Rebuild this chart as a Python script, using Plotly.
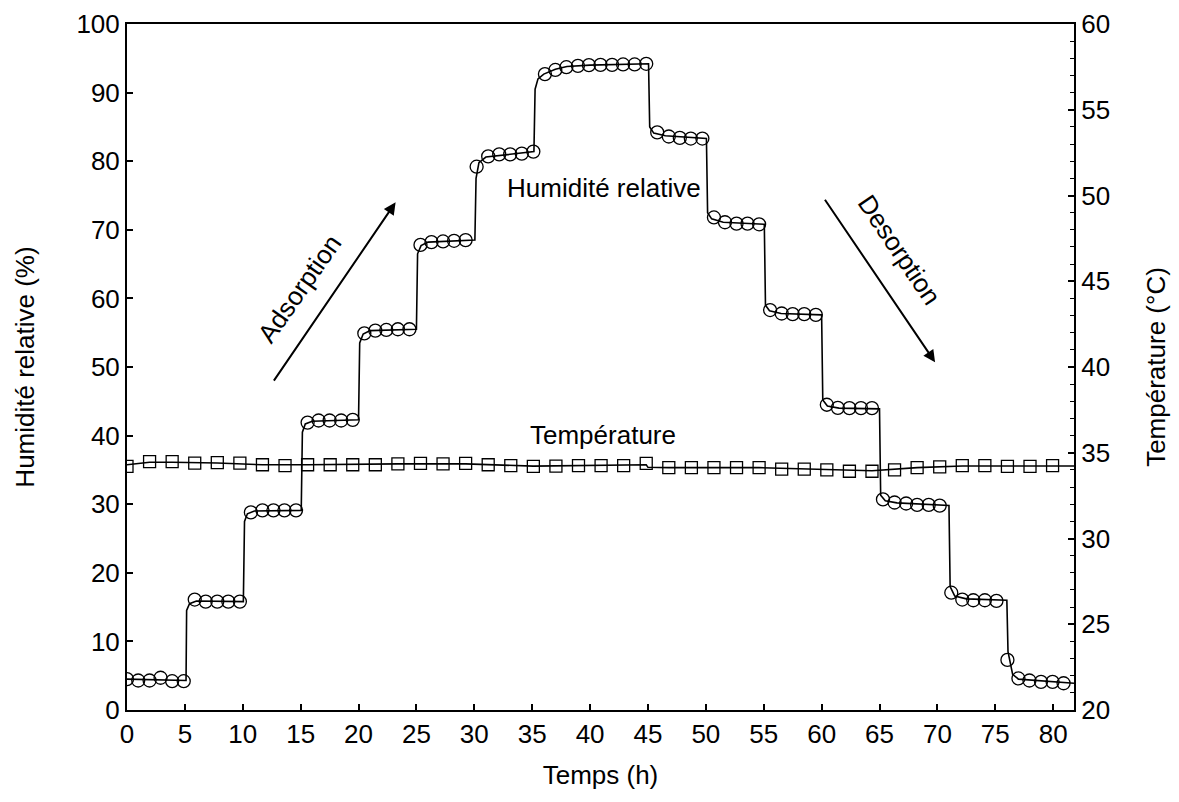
import plotly.graph_objects as go

# Relative humidity sample points (circles)
rh_time = [0.0, 0.97, 1.95, 2.9, 3.9, 4.9,
           5.85, 6.8, 7.8, 8.75, 9.75,
           10.7, 11.7, 12.65, 13.6, 14.6,
           15.6, 16.55, 17.5, 18.5, 19.5,
           20.5, 21.45, 22.4, 23.4, 24.4,
           25.35, 26.3, 27.3, 28.25, 29.25,
           30.2, 31.2, 32.15, 33.1, 34.1, 35.1,
           36.1, 37.0, 37.95, 38.95, 39.9, 40.9, 41.9, 42.85, 43.85, 44.85,
           45.8, 46.8, 47.75, 48.7, 49.7,
           50.7, 51.65, 52.65, 53.6, 54.6,
           55.55, 56.55, 57.5, 58.5, 59.5,
           60.45, 61.4, 62.4, 63.4, 64.35,
           65.3, 66.3, 67.3, 68.25, 69.25, 70.2,
           71.2, 72.15, 73.1, 74.1, 75.1,
           76.05,
           77.0, 77.95, 78.95, 79.95, 80.9]
rh_value = [4.5, 4.3, 4.3, 4.7, 4.2, 4.2,
            16.1, 15.8, 15.8, 15.8, 15.8,
            28.8, 29.1, 29.1, 29.1, 29.1,
            41.9, 42.2, 42.2, 42.2, 42.3,
            54.9, 55.3, 55.4, 55.5, 55.5,
            67.8, 68.2, 68.3, 68.4, 68.5,
            79.2, 80.7, 81.0, 81.0, 81.1, 81.4,
            92.7, 93.3, 93.7, 93.9, 94.0, 94.05, 94.05, 94.1, 94.1, 94.2,
            84.2, 83.6, 83.4, 83.3, 83.3,
            71.8, 71.1, 70.9, 70.9, 70.8,
            58.3, 57.8, 57.7, 57.7, 57.6,
            44.5, 44.05, 44.0, 44.0, 44.0,
            30.7, 30.25, 30.1, 29.9, 29.9, 29.8,
            17.1, 16.1, 16.0, 16.0, 15.9,
            7.3,
            4.6, 4.3, 4.1, 4.1, 3.9]

# Continuous relative humidity recording (line)
rh_line_time = [0.0, 5.1,
                5.15, 5.4, 6.0, 10.05,
                10.15, 10.4, 11.0, 15.05,
                15.15, 15.4, 16.0, 20.0,
                20.1, 20.4, 21.0, 25.0,
                25.1, 25.4, 26.0, 30.05,
                30.15, 30.4, 31.0, 35.15,
                35.25, 35.5, 36.0, 37.0, 38.0, 40.0, 45.05,
                45.15, 45.5, 46.5, 50.05,
                50.15, 50.5, 51.5, 55.05,
                55.15, 55.5, 56.5, 60.0,
                60.1, 60.5, 61.5, 65.0,
                65.1, 65.5, 66.5, 71.0,
                71.1, 71.5, 72.5, 76.0,
                76.1, 76.5, 77.0, 81.8]
rh_line_value = [4.5, 4.3,
                 14.5, 15.5, 15.9, 15.8,
                 27.5, 28.6, 29.0, 29.1,
                 40.5, 41.7, 42.1, 42.3,
                 53.5, 54.8, 55.3, 55.5,
                 66.5, 67.7, 68.2, 68.5,
                 77.5, 79.8, 80.6, 81.4,
                 90.5, 92.0, 92.7, 93.4, 93.8, 94.0, 94.2,
                 85.0, 84.1, 83.7, 83.3,
                 72.5, 71.6, 71.1, 70.8,
                 59.0, 58.2, 57.8, 57.6,
                 45.2, 44.3, 44.0, 43.9,
                 31.3, 30.5, 30.2, 29.8,
                 18.0, 16.6, 16.2, 16.0,
                 8.5, 5.2, 4.5, 3.9]

# Temperature samples (squares)
temp_time = [0.0, 1.95, 3.9, 5.85, 7.8, 9.75, 11.7, 13.65, 15.6, 17.55,
             19.5, 21.45, 23.4, 25.35, 27.3, 29.25, 31.2, 33.15, 35.1, 37.05,
             39.0, 40.95, 42.9, 44.85, 46.8, 48.75, 50.7, 52.65, 54.6, 56.55,
             58.5, 60.45, 62.4, 64.35, 66.3, 68.25, 70.2, 72.15, 74.1, 76.05,
             78.0, 79.95]
temp_value = [34.2, 34.48, 34.48, 34.4, 34.42, 34.4, 34.3, 34.25, 34.3, 34.3,
              34.3, 34.3, 34.35, 34.38, 34.35, 34.38, 34.3, 34.25, 34.2, 34.22,
              34.25, 34.25, 34.25, 34.38, 34.13, 34.13, 34.13, 34.13, 34.13, 34.05,
              34.05, 34.0, 33.92, 33.92, 34.0, 34.13, 34.18, 34.25, 34.25, 34.2,
              34.2, 34.25]

temp_line_time = [0.0, 1.95, 3.9, 7.8, 11.7, 15.6, 23.4, 29.25, 35.1, 44.85,
                  45.0, 46.8, 54.6, 58.5, 62.4, 64.35, 68.25, 72.15, 79.95, 81.8]
temp_line_value = [34.3, 34.45, 34.45, 34.4, 34.3, 34.3, 34.35, 34.35, 34.22, 34.3,
                   34.15, 34.13, 34.13, 34.05, 33.95, 33.95, 34.13, 34.23, 34.23, 34.23]

x_ticks = list(range(0, 85, 5))
FONT = "Liberation Sans, Arial, sans-serif"
FS = 26

fig = go.Figure()
fig.add_trace(go.Scatter(x=rh_line_time, y=rh_line_value, mode="lines",
                         line=dict(color="black", width=1.6), showlegend=False))
fig.add_trace(go.Scatter(x=rh_time, y=rh_value, mode="markers",
                         marker=dict(symbol="circle-open", size=13,
                                     line=dict(color="black", width=1.3), color="black"),
                         showlegend=False))
fig.add_trace(go.Scatter(x=temp_line_time, y=temp_line_value, mode="lines", yaxis="y2",
                         line=dict(color="black", width=1.6), showlegend=False))
fig.add_trace(go.Scatter(x=temp_time, y=temp_value, mode="markers", yaxis="y2",
                         marker=dict(symbol="square-open", size=12,
                                     line=dict(color="black", width=1.3), color="black"),
                         showlegend=False))

ann_font = dict(family=FONT, size=FS, color="black")
fig.add_annotation(x=23.2, y=74.0, ax=12.6, ay=47.8, xref="x", yref="y",
                   axref="x", ayref="y", showarrow=True, arrowhead=2,
                   arrowsize=1.2, arrowwidth=2, arrowcolor="black", text="")
fig.add_annotation(x=69.8, y=50.7, ax=60.2, ay=74.6, xref="x", yref="y",
                   axref="x", ayref="y", showarrow=True, arrowhead=2,
                   arrowsize=1.2, arrowwidth=2, arrowcolor="black", text="")
fig.add_annotation(x=14.9, y=61.3, xref="x", yref="y", text="Adsorption",
                   showarrow=False, textangle=-55, font=ann_font)
fig.add_annotation(x=66.7, y=67.0, xref="x", yref="y", text="Desorption",
                   showarrow=False, textangle=56, font=ann_font)
fig.add_annotation(x=41.2, y=76.1, xref="x", yref="y", text="Humidité relative",
                   showarrow=False, font=ann_font)
fig.add_annotation(x=41.1, y=40.1, xref="x", yref="y", text="Température",
                   showarrow=False, font=ann_font)

axis_common = dict(showgrid=False, zeroline=False, showline=True, linecolor="black",
                   linewidth=2, ticks="inside", tickcolor="black", tickwidth=1.5,
                   ticklen=6, automargin=False,
                   tickfont=dict(family=FONT, size=FS, color="black"),
                   title_font=dict(family=FONT, size=FS, color="black"))

# page body adds an 8px offset; margins compensate so the plot area sits at
# x 127..1074, y 24..710 in the screenshot
fig.update_layout(
    width=1179, height=802,
    margin=dict(l=119, r=113, t=16, b=100),
    plot_bgcolor="white", paper_bgcolor="white",
    font=dict(family=FONT, size=FS, color="black"),
    xaxis=dict(range=[0, 81.8], tickvals=x_ticks, mirror=True,
               title=dict(text="Temps (h)", standoff=18), **axis_common),
    yaxis=dict(range=[0, 100], dtick=10,
               title=dict(text="Humidité relative (%)", standoff=34), **axis_common),
    yaxis2=dict(range=[20, 60], dtick=5, overlaying="y", side="right",
                minor=dict(dtick=1, ticks="inside", ticklen=4, tickcolor="black", tickwidth=1.2),
                title=dict(text="Température (°C)", standoff=38), **axis_common),
)

fig.write_html("out.html")
